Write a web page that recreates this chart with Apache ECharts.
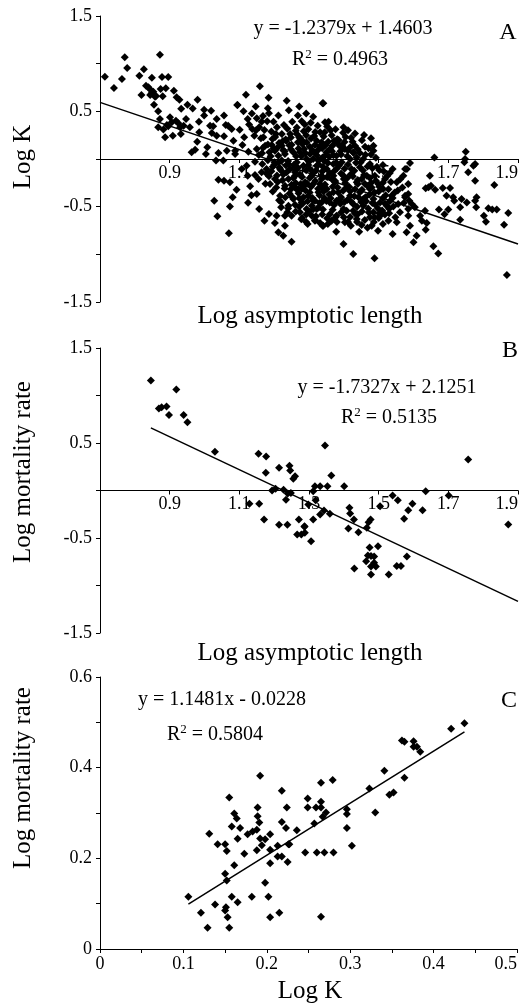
<!DOCTYPE html>
<html>
<head>
<meta charset="utf-8">
<script src="https://cdn.jsdelivr.net/npm/echarts@6/dist/echarts.min.js"></script>
<style>
html,body{margin:0;padding:0;background:#fff;}
#chart{width:522px;height:1007px;}
</style>
</head>
<body>
<div id="chart"></div>
<script>
// ---------- DATA ----------
// Panel A: Log asymptotic length (x) vs Log K (y)
const pointsA = [
[0.714,0.864],[0.740,0.745],[0.763,0.839],[0.771,1.066],[0.778,0.955],[0.813,0.874],[0.826,0.941],[0.819,0.671],[0.832,0.769],[0.842,0.738],
[0.844,0.671],[0.849,0.853],[0.853,0.706],[0.855,0.570],[0.858,0.654],[0.867,0.500],[0.872,1.094],[0.874,0.734],[0.878,0.860],[0.880,0.657],
[0.889,0.741],[0.896,0.860],[0.912,0.717],[0.920,0.647],[0.928,0.622],[0.933,0.528],[0.951,0.570],[0.966,0.531],[0.980,0.622],[0.984,0.392],
[0.999,0.517],[0.999,0.455],[1.019,0.507],[1.035,0.420],[1.056,0.455],[1.061,0.357],[1.094,0.566],[0.872,0.420],[0.867,0.332],[0.887,0.227],
[0.896,0.343],[0.901,0.437],[0.909,0.245],[0.918,0.402],[0.932,0.262],[0.930,0.332],[0.947,0.420],[0.958,0.332],[0.963,0.070],[0.973,0.098],
[0.979,0.182],[0.985,0.280],[1.004,0.052],[1.008,0.122],[1.016,0.350],[1.021,0.273],[1.025,0.343],[1.035,0.245],[1.040,0.063],[1.056,0.238],
[1.064,0.087],[1.068,0.350],[1.078,0.315],[1.083,0.192],[1.088,0.087],[1.033,-0.017],[1.054,-0.017],[1.040,-0.217],[1.056,-0.227],[1.073,-0.245],
[1.081,-0.402],[1.073,-0.497],[1.028,-0.437],[1.037,-0.601],[1.070,-0.780],[1.092,-0.322],[0.882,0.310],[0.892,0.357],[0.906,0.385],[0.925,0.375],
[0.940,0.350],[0.839,0.752],[0.848,0.690],[0.861,0.660],
[1.159,0.762],[1.119,0.675],[1.095,0.566],[1.147,0.552],[1.185,0.479],[1.212,0.455],[1.124,0.420],[1.150,0.427],[1.164,0.392],[1.180,0.395],
[1.101,0.308],[1.137,0.315],[1.157,0.332],[1.228,0.357],[1.268,0.455],[1.279,0.395],[1.339,0.584],[1.332,0.280],[1.114,0.227],[1.143,0.245],
[1.169,0.227],[1.174,0.140],[1.193,0.147],[1.222,0.262],[1.246,0.262],[1.265,0.262],[1.284,0.182],[1.293,0.175],[1.317,0.147],[1.109,0.147],
[1.126,0.077],[1.150,0.105],[1.088,0.052],[1.212,0.035],[1.231,0.052],[1.255,0.070],[1.274,0.070],[1.303,0.052],[1.327,0.098],[1.202,0.087],
[1.222,0.140],[1.107,-0.105],[1.121,-0.070],[1.124,-0.175],[1.145,-0.168],[1.164,-0.140],[1.178,-0.105],[1.131,-0.287],[1.150,-0.367],[1.157,-0.524],
[1.172,-0.647],[1.185,-0.577],[1.202,-0.671],[1.207,-0.594],[1.226,-0.804],[1.250,-0.867],[1.220,-0.507],[1.241,-0.490],[1.217,-0.385],[1.231,-0.280],
[1.202,-0.210],[1.201,-0.035],[1.217,-0.105],[1.246,-0.105],[1.241,-0.210],[1.260,-0.175],[1.269,-0.315],[1.255,-0.420],[1.279,-0.455],[1.293,-0.524],
[1.296,-0.682],[1.308,-0.594],[1.317,-0.647],[1.332,-0.671],[1.339,-0.699],[1.284,-0.070],[1.303,-0.105],[1.322,-0.070],[1.336,-0.175],[1.289,-0.245],
[1.312,-0.262],[1.327,-0.350],[1.298,-0.385],[1.317,-0.437],[1.336,-0.455],[1.274,-0.559],[1.250,-0.594],[1.231,-0.594],[1.312,0.000],[1.293,0.000],
[1.327,-0.017],[1.339,0.017],[1.222,-0.017],[1.241,-0.052],[1.265,-0.035],[1.308,-0.175],[1.279,-0.315],[1.260,-0.297],[1.322,-0.524],[1.332,-0.262],
[1.284,-0.402],[1.308,-0.490],[1.231,-0.699],[1.212,-0.769],
[1.341,0.584],[1.399,0.332],[1.346,0.385],[1.356,0.392],[1.372,0.192],[1.389,0.133],[1.403,0.105],[1.418,0.122],[1.427,0.070],[1.461,0.129],
[1.485,0.140],[1.485,0.087],[1.437,0.017],[1.456,0.000],[1.475,-0.052],[1.540,-0.105],[1.576,-0.105],[1.518,-0.210],[1.552,-0.245],[1.571,-0.175],
[1.537,-0.385],[1.556,-0.472],[1.576,-0.385],[1.588,-0.437],[1.528,-0.647],[1.552,-0.664],[1.540,-0.787],[1.451,-0.692],[1.427,-0.997],[1.488,-1.042],
[1.399,-0.892],[1.378,-0.762],[1.341,-0.699],[1.365,-0.647],[1.379,-0.594],[1.399,-0.524],[1.427,-0.542],[1.456,-0.490],[1.485,-0.559],[1.504,-0.455],
[1.513,-0.315],[1.499,-0.262],[1.475,-0.315],[1.446,-0.350],[1.418,-0.385],[1.389,-0.420],[1.360,-0.455],[1.351,-0.315],[1.375,-0.245],[1.399,-0.175],
[1.422,-0.105],[1.446,-0.087],[1.466,-0.175],[1.489,-0.175],[1.437,-0.245],[1.408,-0.297],[1.351,-0.105],[1.370,-0.052],[1.394,-0.035],[1.418,0.000],
[1.346,0.035],[1.360,0.105],[1.336,0.175],[1.379,0.035],[1.523,-0.490],[1.504,-0.594],[1.475,-0.612],[1.437,-0.629],[1.403,-0.664],[1.379,-0.437],
[1.456,-0.420],[1.561,-0.559],[1.585,-0.524],[1.451,-0.210],[1.370,-0.175],[1.336,-0.210],[1.485,-0.420],[1.427,-0.472],
[1.660,0.017],[1.750,0.077],[1.748,0.000],[1.746,-0.035],[1.772,-0.070],[1.777,-0.052],[1.757,-0.140],[1.590,-0.042],[1.581,-0.105],[1.647,-0.175],
[1.777,-0.227],[1.585,-0.262],[1.832,-0.273],[1.643,-0.297],[1.650,-0.280],[1.635,-0.308],[1.662,-0.322],[1.684,-0.304],[1.705,-0.304],[1.695,-0.385],
[1.714,-0.402],[1.717,-0.437],[1.738,-0.420],[1.753,-0.455],[1.777,-0.437],[1.781,-0.402],[1.585,-0.367],[1.576,-0.402],[1.780,-0.507],[1.734,-0.507],
[1.815,-0.517],[1.826,-0.531],[1.839,-0.531],[1.872,-0.566],[1.673,-0.531],[1.700,-0.531],[1.689,-0.580],[1.802,-0.594],[1.808,-0.657],[1.734,-0.636],
[1.860,-0.689],[1.633,-0.542],[1.595,-0.472],[1.604,-0.507],[1.619,-0.594],[1.624,-0.647],[1.638,-0.671],[1.635,-0.741],[1.585,-0.594],[1.590,-0.699],
[1.580,-0.769],[1.609,-0.804],[1.600,-0.874],[1.657,-0.916],[1.671,-0.990],[1.868,-1.217],
[1.21,0.12],[1.23,0.08],[1.25,0.15],[1.27,0.11],[1.29,0.06],[1.31,0.09],[1.33,0.13],[1.35,0.07],[1.37,0.04],[1.39,0.08],[1.41,0.03],
[1.20,-0.06],[1.22,-0.12],[1.24,-0.02],[1.26,-0.14],[1.28,-0.19],[1.30,-0.03],[1.32,-0.12],[1.34,-0.08],[1.36,-0.15],[1.38,-0.10],[1.40,-0.21],
[1.42,-0.16],[1.44,-0.22],[1.46,-0.26],[1.48,-0.30],[1.50,-0.34],[1.52,-0.38],[1.54,-0.41],[1.21,-0.24],[1.23,-0.31],[1.25,-0.27],[1.27,-0.36],
[1.29,-0.33],[1.31,-0.41],[1.33,-0.38],[1.35,-0.44],[1.37,-0.35],[1.39,-0.47],[1.41,-0.43],[1.43,-0.39],[1.45,-0.45],[1.47,-0.52],[1.49,-0.48],
[1.51,-0.54],[1.53,-0.57],[1.22,-0.45],[1.24,-0.52],[1.26,-0.48],[1.28,-0.62],[1.30,-0.55],[1.32,-0.60],[1.34,-0.53],[1.36,-0.58],[1.38,-0.66],
[1.40,-0.61],[1.42,-0.70],[1.44,-0.58],[1.46,-0.64],[1.48,-0.70],[1.50,-0.62],[1.19,0.03],[1.215,-0.09],[1.235,0.19],[1.255,-0.20],[1.275,0.22],
[1.295,-0.26],[1.315,0.24],[1.335,-0.30],[1.355,0.18],[1.375,-0.23],[1.395,0.14],[1.415,-0.29],[1.435,-0.04],[1.455,-0.12],[1.475,-0.20],
[1.495,-0.08],[1.515,-0.13],[1.535,-0.24],[1.555,-0.33],[1.265,0.33],[1.285,0.29],[1.305,0.38],[1.325,0.35],[1.345,0.28],[1.365,0.25],
[1.385,0.20],[1.405,0.23],[1.425,0.18],[1.145,-0.03],[1.165,0.06],[1.185,-0.18],[1.195,0.21],[1.175,-0.26],[1.155,-0.21],[1.135,-0.38],[1.125,-0.46],
[1.172,0.305],[1.192,0.288],[1.238,0.318],[1.262,0.296],[1.298,0.312],[1.318,0.284],[1.362,0.302],[1.398,0.276],
[1.162,0.218],[1.203,0.232],[1.233,0.205],[1.272,0.226],[1.306,0.214],[1.342,0.236],[1.381,0.208],[1.421,0.224],[1.452,0.196],
[1.182,0.152],[1.214,0.168],[1.244,0.142],[1.281,0.158],[1.302,0.128],[1.348,0.148],[1.383,0.162],[1.432,0.138],[1.471,0.112],
[1.156,0.042],[1.186,0.072],[1.226,0.092],[1.263,0.028],[1.286,0.104],[1.323,0.038],[1.358,0.024],[1.392,0.046],[1.428,0.062],[1.462,0.044],[1.492,0.012],
[1.166,-0.052],[1.196,-0.082],[1.234,-0.068],[1.268,-0.092],[1.292,-0.118],[1.328,-0.058],[1.354,-0.042],[1.386,-0.072],[1.412,-0.058],[1.448,-0.036],
[1.482,-0.098],[1.512,-0.062],[1.532,-0.148],
[1.178,-0.152],[1.208,-0.172],[1.236,-0.138],[1.274,-0.162],[1.302,-0.198],[1.338,-0.132],[1.366,-0.212],[1.392,-0.152],[1.426,-0.182],[1.458,-0.168],
[1.492,-0.228],[1.524,-0.182],[1.562,-0.212],
[1.188,-0.262],[1.224,-0.222],[1.262,-0.252],[1.284,-0.288],[1.318,-0.232],[1.346,-0.268],[1.382,-0.298],[1.404,-0.252],[1.432,-0.318],[1.468,-0.282],
[1.502,-0.292],[1.528,-0.318],[1.568,-0.298],
[1.196,-0.342],[1.244,-0.362],[1.266,-0.322],[1.302,-0.352],[1.326,-0.312],[1.358,-0.372],[1.384,-0.352],[1.418,-0.338],[1.442,-0.402],[1.474,-0.372],
[1.512,-0.408],[1.546,-0.352],
[1.214,-0.432],[1.252,-0.398],[1.282,-0.468],[1.312,-0.432],[1.344,-0.408],[1.372,-0.482],[1.402,-0.452],[1.438,-0.502],[1.464,-0.442],[1.498,-0.518],
[1.542,-0.498],[1.572,-0.462],
[1.262,-0.552],[1.292,-0.582],[1.328,-0.508],[1.352,-0.622],[1.392,-0.562],[1.418,-0.608],[1.452,-0.552],[1.488,-0.612],[1.518,-0.582],[1.548,-0.612],
[1.292,-0.662],[1.354,-0.682],[1.412,-0.662],[1.468,-0.722],[1.512,-0.682],[1.498,-0.752],[1.444,-0.762],
[1.128,0.362],[1.148,0.302],[1.168,0.452],[1.198,0.392],[1.208,0.332],[1.252,0.392],[1.288,0.362],[1.312,0.442],[1.352,0.342],[1.376,0.312],
[1.412,0.302],[1.432,0.268],[1.458,0.252],[1.478,0.218],
[1.112,0.502],[1.136,0.478],[1.182,0.532],[1.242,0.512],[1.292,0.478],[1.236,0.612],[1.184,0.642],[1.272,0.552],
[1.205,0.262],[1.225,0.188],[1.248,0.225],[1.268,0.176],[1.292,0.248],[1.322,0.192],[1.338,0.112],[1.368,0.142],[1.402,0.178],[1.440,0.102],
[1.168,0.118],[1.198,0.108],[1.248,0.102],[1.278,0.028],[1.318,0.062],[1.366,0.082],[1.412,0.088],[1.446,0.062],[1.478,0.048],
[1.182,-0.012],[1.212,-0.038],[1.256,-0.062],[1.298,-0.062],[1.344,-0.022],[1.378,-0.038],[1.402,-0.102],[1.430,-0.122],[1.468,-0.078],[1.502,-0.118],
[1.192,-0.128],[1.226,-0.162],[1.262,-0.118],[1.312,-0.148],[1.352,-0.188],[1.372,-0.128],[1.410,-0.198],[1.440,-0.262],[1.478,-0.252],[1.512,-0.248],
[1.206,-0.298],[1.248,-0.318],[1.276,-0.262],[1.306,-0.292],[1.342,-0.342],[1.368,-0.292],[1.398,-0.332],[1.452,-0.322],[1.488,-0.352],[1.532,-0.442],
[1.232,-0.402],[1.272,-0.412],[1.296,-0.442],[1.330,-0.462],[1.362,-0.412],[1.392,-0.402],[1.422,-0.452],[1.462,-0.402],[1.482,-0.462],[1.518,-0.468],
[1.238,-0.558],[1.272,-0.502],[1.312,-0.528],[1.338,-0.582],[1.368,-0.532],[1.408,-0.542],[1.432,-0.572],[1.472,-0.562],[1.502,-0.572],[1.530,-0.522],
[1.278,-0.632],[1.318,-0.642],[1.376,-0.612],[1.438,-0.662],[1.486,-0.662]
];
// Panel B: Log asymptotic length (x) vs Log mortality rate (y)
const pointsB = [
[0.846,1.158],[0.919,1.063],[0.869,0.863],[0.877,0.877],[0.891,0.884],[0.898,0.796],[0.940,0.796],[0.951,0.719],[1.030,0.407],[1.155,0.386],
[1.177,0.358],[1.346,0.474],[1.214,0.239],[1.244,0.260],[1.246,0.211],[1.176,0.186],[1.260,0.151],[1.255,0.123],[1.364,0.158],[1.401,0.046],
[1.317,0.046],[1.332,0.046],[1.353,0.046],[1.194,0.000],[1.204,0.018],[1.227,0.007],[1.239,-0.032],[1.248,-0.025],[1.234,-0.098],[1.129,-0.140],
[1.157,-0.140],[1.171,-0.305],[1.214,-0.361],[1.238,-0.361],[1.271,-0.305],[1.287,-0.382],[1.278,-0.463],[1.288,-0.446],[1.312,-0.007],[1.319,-0.102],
[1.298,-0.147],[1.332,-0.253],[1.312,-0.305],[1.343,-0.211],[1.360,-0.246],[1.416,-0.182],[1.418,-0.242],[1.429,-0.305],[1.413,-0.400],[1.442,-0.439],
[1.466,-0.393],[1.471,-0.333],[1.477,-0.305],[1.504,-0.165],[1.540,-0.053],[1.555,-0.102],[1.597,-0.140],[1.585,-0.207],[1.573,-0.298],[1.626,-0.207],
[1.635,-0.007],[1.701,-0.053],[1.757,0.326],[1.872,-0.358],
[1.474,-0.600],[1.498,-0.586],[1.469,-0.684],[1.478,-0.690],[1.487,-0.695],[1.464,-0.744],[1.487,-0.760],[1.478,-0.800],[1.492,-0.800],[1.430,-0.820],
[1.478,-0.885],[1.529,-0.885],[1.552,-0.796],[1.564,-0.796],[1.581,-0.695],[1.266,-0.463],[1.287,-0.375],[1.306,-0.533]
];
// Panel C: Log K (x) vs Log mortality rate (y)
const pointsC = [
[0.106,0.115],[0.121,0.080],[0.129,0.047],[0.131,0.254],[0.138,0.098],[0.141,0.231],[0.150,0.231],[0.152,0.216],[0.150,0.166],[0.152,0.151],
[0.151,0.092],[0.150,0.085],[0.153,0.070],[0.155,0.047],[0.155,0.334],[0.158,0.115],[0.158,0.270],[0.161,0.299],[0.164,0.288],[0.161,0.185],
[0.165,0.103],[0.165,0.243],[0.168,0.267],[0.173,0.210],[0.177,0.253],[0.182,0.115],[0.183,0.259],[0.188,0.263],[0.188,0.218],[0.189,0.312],
[0.189,0.293],[0.191,0.279],[0.192,0.382],[0.194,0.229],[0.192,0.244],[0.198,0.242],[0.198,0.146],[0.202,0.115],[0.204,0.070],[0.204,0.253],
[0.204,0.219],[0.204,0.189],[0.213,0.228],[0.213,0.204],[0.215,0.080],[0.218,0.349],[0.218,0.280],[0.218,0.204],[0.223,0.267],[0.224,0.312],
[0.225,0.192],[0.226,0.231],[0.227,0.231],[0.236,0.262],[0.246,0.213],[0.249,0.332],[0.249,0.312],[0.257,0.277],[0.259,0.312],[0.260,0.213],
[0.265,0.367],[0.265,0.325],[0.265,0.312],[0.265,0.071],[0.267,0.292],[0.269,0.213],[0.271,0.301],[0.279,0.373],[0.280,0.213],[0.296,0.308],
[0.296,0.298],[0.296,0.267],[0.302,0.228],[0.323,0.354],[0.330,0.301],[0.341,0.393],[0.347,0.340],[0.352,0.345],[0.362,0.460],[0.365,0.457],
[0.365,0.378],[0.376,0.458],[0.376,0.446],[0.380,0.446],[0.384,0.435],[0.421,0.486],[0.437,0.498]
];
// Linear fits printed on the chart
const slopes = [-1.2379, -1.7327, 1.1481];
const intercepts = [1.4603, 2.1251, -0.0228];
const r2Values = ['0.4963', '0.5135', '0.5804'];
const equationTexts = ['y = -1.2379x + 1.4603', 'y = -1.7327x + 2.1251', 'y = 1.1481x - 0.0228'];
const panelLetters = ['A', 'B', 'C'];
// Tick labels
const xLabelsAB = ['0.9', '1.1', '1.3', '1.5', '1.7', '1.9'];
const yLabelsAB = ['-1.5', '-0.5', '0.5', '1.5'];
const xLabelsC = ['0', '0.1', '0.2', '0.3', '0.4', '0.5'];
const yLabelsC = ['0', '0.2', '0.4', '0.6'];

// ---------- CHART ----------
const FONT = "'Liberation Serif', 'Times New Roman', serif";
const INK = '#000';
const chart = echarts.init(document.getElementById('chart'), null, {renderer: 'canvas'});

const grids = [
  {left: 100, top: 16, width: 418, height: 286},
  {left: 100, top: 348, width: 418, height: 285},
  {left: 100, top: 677, width: 417, height: 272}
];

function fitLine(i, x0, x1) {
  return [[x0, slopes[i] * x0 + intercepts[i]], [x1, slopes[i] * x1 + intercepts[i]]];
}
const minX = pts => Math.min.apply(null, pts.map(p => p[0]));
const maxX = pts => Math.max.apply(null, pts.map(p => p[0]));

function pick(list, digits) {
  return function (v) {
    const s = Math.abs(v) < 1e-9 ? '0' : v.toFixed(digits);
    return list.indexOf(s) >= 0 ? s : '';
  };
}

const labelStyle = {color: INK, fontFamily: FONT, fontSize: 18};

// x axis of panels A and B is drawn through y = 0 (middle of the symmetric y range)
function xAxisAB(gi) {
  return {
    type: 'value', gridIndex: gi, min: 0.7, max: 1.9, interval: 0.1,
    position: 'bottom', offset: -grids[gi].height / 2,
    axisLine: {show: true, onZero: false, lineStyle: {color: INK, width: 1}},
    axisTick: {show: true, length: 4, lineStyle: {color: INK}, customValues: xLabelsAB.map(Number)},
    axisLabel: Object.assign({margin: 5, formatter: pick(xLabelsAB, 1), alignMaxLabel: 'right',
      customValues: xLabelsAB.map(Number)}, labelStyle),
    splitLine: {show: false}
  };
}
function yAxisAB(gi) {
  return {
    type: 'value', gridIndex: gi, min: -1.5, max: 1.5, interval: 0.5,
    axisLine: {show: true, onZero: false, lineStyle: {color: INK, width: 1}},
    axisTick: {show: true, length: 4, lineStyle: {color: INK}},
    axisLabel: Object.assign({margin: 8, formatter: pick(yLabelsAB, 1),
      customValues: yLabelsAB.map(Number)}, labelStyle),
    splitLine: {show: false}
  };
}

const scatterStyle = {symbol: 'diamond', symbolSize: 8, itemStyle: {color: INK, opacity: 1}};
const lineStyleFit = {type: 'line', showSymbol: false, symbol: 'none', lineStyle: {color: INK, width: 1.5}, z: 3};

function eqGraphics(i, cx, cy, rx, ry) {
  return [
    {type: 'text', x: cx, y: cy, style: {text: equationTexts[i], font: '20px ' + FONT, fill: INK, align: 'center', verticalAlign: 'middle'}},
    {type: 'text', x: rx, y: ry, style: {
      text: '{a|R}{s|2}{a| = ' + r2Values[i] + '}', fill: INK, align: 'center', verticalAlign: 'middle',
      rich: {a: {fontFamily: FONT, fontSize: 20, lineHeight: 24, fill: INK},
             s: {fontFamily: FONT, fontSize: 13, lineHeight: 14, verticalAlign: 'top', fill: INK}}
    }}
  ];
}
function txt(t, x, y, size, rot) {
  return {type: 'text', x: x, y: y, rotation: rot || 0,
    style: {text: t, font: size + 'px ' + FONT, fill: INK, align: 'center', verticalAlign: 'middle'}};
}

const option = {
  animation: false,
  backgroundColor: '#fff',
  grid: grids,
  xAxis: [
    xAxisAB(0), xAxisAB(1),
    {
      type: 'value', gridIndex: 2, min: 0, max: 0.5, interval: 0.05,
      axisLine: {show: true, onZero: false, lineStyle: {color: INK, width: 1}},
      axisTick: {show: true, length: 4, lineStyle: {color: INK}},
      axisLabel: Object.assign({margin: 6, formatter: pick(xLabelsC, 1), alignMaxLabel: 'right',
        customValues: xLabelsC.map(Number)}, labelStyle),
      splitLine: {show: false}
    }
  ],
  yAxis: [
    yAxisAB(0), yAxisAB(1),
    {
      type: 'value', gridIndex: 2, min: 0, max: 0.6, interval: 0.1,
      axisLine: {show: true, onZero: false, lineStyle: {color: INK, width: 1}},
      axisTick: {show: true, length: 4, lineStyle: {color: INK}},
      axisLabel: Object.assign({margin: 8, formatter: pick(yLabelsC, 1),
        customValues: yLabelsC.map(Number)}, labelStyle),
      splitLine: {show: false}
    }
  ],
  series: [
    Object.assign({type: 'scatter', xAxisIndex: 0, yAxisIndex: 0, data: pointsA}, scatterStyle),
    Object.assign({xAxisIndex: 0, yAxisIndex: 0, data: fitLine(0, 0.7, 1.9)}, lineStyleFit),
    Object.assign({type: 'scatter', xAxisIndex: 1, yAxisIndex: 1, data: pointsB}, scatterStyle),
    Object.assign({xAxisIndex: 1, yAxisIndex: 1, data: fitLine(1, minX(pointsB), 1.9)}, lineStyleFit),
    Object.assign({type: 'scatter', xAxisIndex: 2, yAxisIndex: 2, data: pointsC}, scatterStyle),
    Object.assign({xAxisIndex: 2, yAxisIndex: 2, data: fitLine(2, minX(pointsC), maxX(pointsC))}, lineStyleFit)
  ],
  graphic: [].concat(
    eqGraphics(0, 343, 29, 340, 60),
    eqGraphics(1, 387, 388, 389, 418),
    eqGraphics(2, 222, 700, 215, 735),
    [
      txt(panelLetters[0], 508, 33, 24),
      txt(panelLetters[1], 510, 351, 24),
      txt(panelLetters[2], 509, 701, 24),
      txt('Log asymptotic length', 310, 316, 25),
      txt('Log asymptotic length', 310, 653, 25),
      txt('Log K', 310, 991, 25),
      txt('Log K', 23, 157, 25, Math.PI / 2),
      txt('Log mortality rate', 23, 472, 25, Math.PI / 2),
      txt('Log mortality rate', 23, 778, 25, Math.PI / 2)
    ]
  )
};
chart.setOption(option);
</script>
</body>
</html>
